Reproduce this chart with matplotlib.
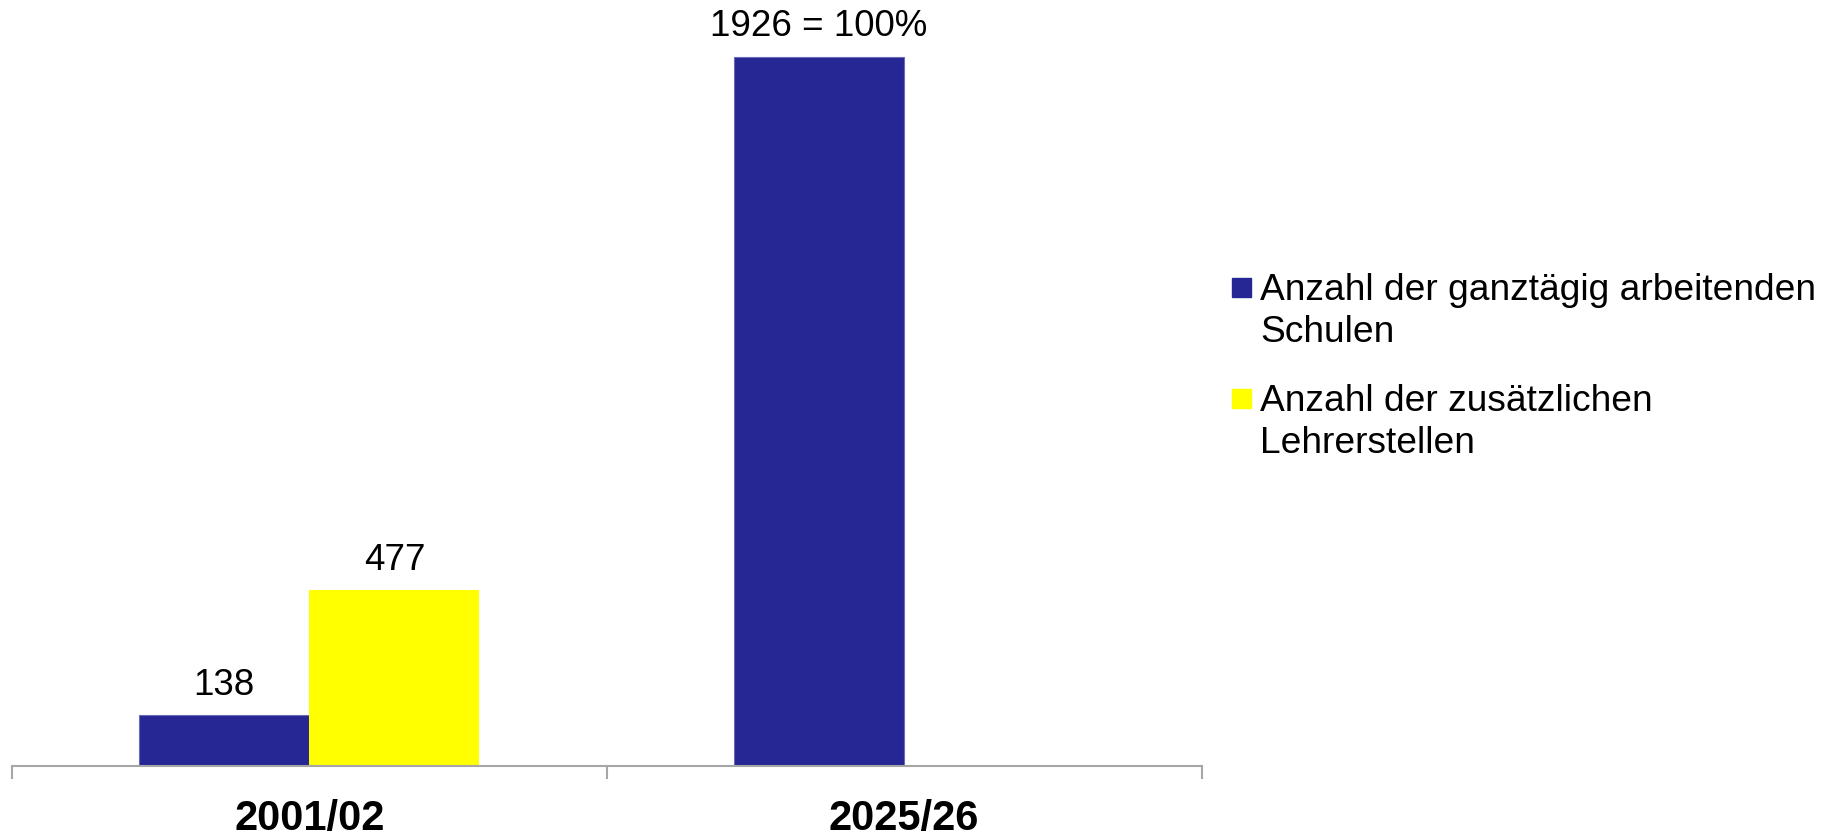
import numpy as np
import matplotlib
matplotlib.use("Agg")
import matplotlib.pyplot as plt
from matplotlib.patches import Rectangle

plt.rcParams['font.family'] = ['Liberation Sans', 'DejaVu Sans']

# data
years = ['2001/02', '2025/26']
schools = [138, 1926]
teachers = [477, np.nan]
school_labels = ['138', '1926 = 100%']
teacher_labels = ['477', '']
legend_labels = ['Anzahl der ganztägig arbeitenden\nSchulen',
                 'Anzahl der zusätzlichen\nLehrerstellen']

blue = '#262695'
yellow = '#FFFF00'
axis_grey = '#A6A6A6'

W, H = 1838, 836
fig = plt.figure(figsize=(W / 100, H / 100), dpi=100)
ax = fig.add_axes([0.0065, 0.0843, 0.6472, 0.8806])

x = np.arange(len(years))
w = 0.286
b1 = ax.bar(x - w / 2, schools, w, color=blue, edgecolor='#6b6bb8', linewidth=0.8)
b2 = ax.bar(x + w / 2, teachers, w, color=yellow)

for bars, labels in [(b1, school_labels), (b2, teacher_labels)]:
    for rect, lab in zip(bars, labels):
        h = rect.get_height()
        if not lab or np.isnan(h):
            continue
        ax.annotate(lab, (rect.get_x() + rect.get_width() / 2, h),
                    xytext=(0, 14.5), textcoords='offset points',
                    ha='center', va='baseline', fontsize=26.5)

ax.set_xlim(-0.5, 1.5)
ax.set_ylim(0, 2000)
ax.set_xticks(x)
ax.set_xticklabels(years, fontsize=30, fontweight='bold')
ax.set_xticks([-0.5, 0.5, 1.5], minor=True)
ax.tick_params(axis='x', which='major', length=0, pad=24)
ax.tick_params(axis='x', which='minor', length=9, color=axis_grey, width=1.5)
ax.set_yticks([])
for s in ['left', 'right', 'top']:
    ax.spines[s].set_visible(False)
ax.spines['bottom'].set_color(axis_grey)
ax.spines['bottom'].set_linewidth(1.5)

# legend drawn by hand so the square sits on the first text line
entry_base = [300, 411]   # pixel baseline of first line of each entry
line_step = 42
for base, lab, col in zip(entry_base, legend_labels, [blue, yellow]):
    fig.patches.append(Rectangle((1232 / W, 1 - (base - 3) / H), 19 / W, 19 / H,
                                 transform=fig.transFigure, color=col))
    for i, line in enumerate(lab.split('\n')):
        fig.text(1260 / W, 1 - (base + i * line_step) / H, line,
                 fontsize=26.7, va='baseline', ha='left')

fig.savefig('out.png', dpi=100)
